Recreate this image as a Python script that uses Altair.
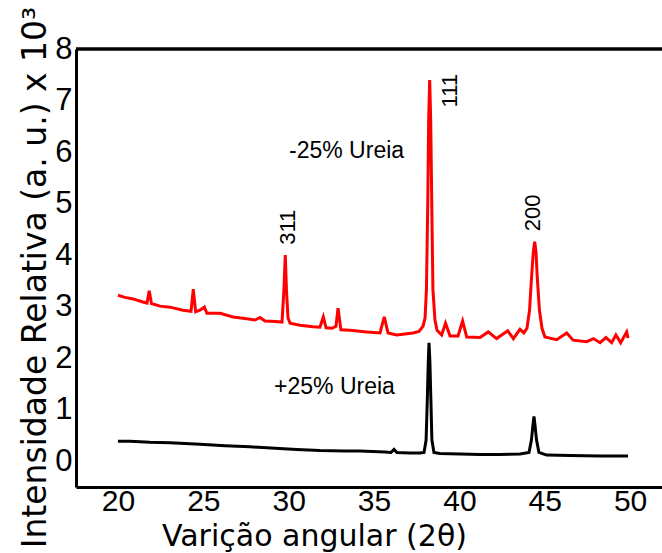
import altair as alt
import pandas as pd

# ---- data ----
# -25% Ureia (red) : 2theta and intensity (x 10^3)
red_2theta = [20.00, 20.41, 20.88, 21.46, 21.70, 21.83, 21.96, 22.46, 23.05, 23.81,
              24.28, 24.41, 24.55, 24.80, 25.06, 25.21, 25.98, 26.74, 27.44, 28.03,
              28.32, 28.61, 29.20, 29.61, 29.72, 29.80, 29.87, 29.96, 30.08, 30.66,
              31.42, 31.83, 32.03, 32.19, 32.54, 32.77, 32.89, 33.06, 33.59, 34.57,
              35.35, 35.60, 35.82, 36.33, 36.81, 37.28, 37.63, 37.87, 37.99, 38.07,
              38.15, 38.20, 38.26, 38.32, 38.38, 38.45, 38.57, 38.69, 38.96, 39.19,
              39.45, 39.92, 40.19, 40.43, 41.21, 41.69, 42.18, 42.83, 43.16, 43.55,
              43.78, 43.96, 44.11, 44.23, 44.33, 44.41, 44.49, 44.56, 44.69, 44.84,
              45.01, 45.70, 46.29, 46.66, 47.46, 47.85, 48.24, 48.59, 48.92, 49.17,
              49.45, 49.80, 49.88]
red_int = [3.22, 3.18, 3.15, 3.09, 3.07, 3.31, 3.06, 3.01, 2.99, 2.93,
           2.91, 3.34, 2.90, 2.93, 2.99, 2.87, 2.87, 2.80, 2.77, 2.74,
           2.79, 2.72, 2.71, 2.70, 3.32, 4.00, 3.32, 2.78, 2.68, 2.64,
           2.61, 2.60, 2.80, 2.59, 2.58, 2.62, 2.97, 2.55, 2.54, 2.51,
           2.49, 2.80, 2.49, 2.45, 2.47, 2.49, 2.52, 2.62, 2.78, 3.33,
           5.07, 6.62, 7.40, 6.62, 5.07, 3.33, 2.74, 2.54, 2.45, 2.68,
           2.43, 2.43, 2.72, 2.41, 2.40, 2.51, 2.38, 2.53, 2.38, 2.56,
           2.49, 2.58, 2.93, 3.58, 4.06, 4.26, 4.06, 3.58, 2.93, 2.58,
           2.41, 2.36, 2.49, 2.35, 2.32, 2.38, 2.30, 2.40, 2.30, 2.45,
           2.30, 2.51, 2.39]

# +25% Ureia (black)
black_2theta = [20.00, 20.70, 21.87, 23.05, 24.80, 26.27, 27.73, 29.20, 30.47, 31.83,
                33.30, 34.18, 35.64, 35.99, 36.17, 36.34, 37.11, 37.69, 37.93, 38.05,
                38.12, 38.18, 38.22, 38.27, 38.33, 38.39, 38.51, 38.86, 40.04, 41.21,
                42.38, 43.55, 44.08, 44.22, 44.31, 44.37, 44.43, 44.52, 44.66, 45.11,
                46.48, 48.24, 49.88]
black_int = [0.39, 0.39, 0.37, 0.36, 0.33, 0.30, 0.28, 0.25, 0.23, 0.21,
             0.20, 0.20, 0.18, 0.17, 0.23, 0.17, 0.16, 0.16, 0.17, 0.41,
             1.19, 1.96, 2.30, 1.96, 1.19, 0.41, 0.17, 0.15, 0.14, 0.13,
             0.13, 0.14, 0.17, 0.41, 0.70, 0.87, 0.70, 0.41, 0.17, 0.12,
             0.11, 0.10, 0.10]

series_names = ["-25% Ureia", "+25% Ureia"]
series_colors = ["#ff0000", "#000000"]

peak_labels = ["311", "111", "200"]
peak_x = [29.94, 39.43, 44.31]
peak_y = [4.54, 7.19, 4.82]

cond_labels = ["-25% Ureia", "+25% Ureia"]
cond_x = [33.39, 32.68]
cond_y = [6.03, 1.44]

y_ticks = [0, 1, 2, 3, 4, 5, 6, 7, 8]
x_ticks = [20, 25, 30, 35, 40, 45, 50]

# ---- tables ----
lines_df = pd.concat([
    pd.DataFrame({"theta": red_2theta, "I": red_int, "serie": series_names[0], "o": range(len(red_2theta))}),
    pd.DataFrame({"theta": black_2theta, "I": black_int, "serie": series_names[1], "o": range(len(black_2theta))}),
])
peaks_df = pd.DataFrame({"theta": peak_x, "I": peak_y, "t": peak_labels})
cond_df = pd.DataFrame({"theta": cond_x, "I": cond_y, "t": cond_labels})

xscale = alt.Scale(domain=[17.54, 51.87], nice=False, zero=False)
yscale = alt.Scale(domain=[-0.5, 8.0], nice=False, zero=False)

FONT = "Liberation Sans, Arial, sans-serif"

lines = alt.Chart(lines_df).mark_line(strokeWidth=3, interpolate="linear").encode(
    x=alt.X("theta:Q", scale=xscale,
            axis=alt.Axis(values=x_ticks, ticks=False, grid=False,
                          domainColor="black", domainWidth=3,
                          labelFont=FONT, labelFontSize=30, labelColor="black",
                          labelPadding=-1, labelFlush=False,
                          title="Varição angular (2θ)", titleFont="DejaVu Sans",
                          titleFontSize=30, titleFontWeight="normal", titleColor="black",
                          titleX=238, titleY=58, titleAlign="center", titleBaseline="alphabetic")),
    y=alt.Y("I:Q", scale=yscale,
            axis=alt.Axis(values=y_ticks, ticks=False, grid=False,
                          domainColor="black", domainWidth=3,
                          labelFont=FONT, labelFontSize=31, labelColor="black",
                          labelPadding=4, labelFlush=False,
                          title="Intensidade Relativa (a. u.) x 10³", titleFont="DejaVu Sans",
                          titleFontSize=33, titleFontWeight="normal", titleColor="black",
                          titleAngle=270, titleX=-31, titleY=228, titleAlign="center",
                          titleBaseline="alphabetic")),
    color=alt.Color("serie:N", scale=alt.Scale(domain=series_names, range=series_colors), legend=None),
    order="o:Q",
)

# top frame line
top_line = alt.Chart(cond_df).mark_rule(color="black", strokeWidth=3).encode(
    x=alt.value(0), x2=alt.value(586), y=alt.value(0)
)

peaks = alt.Chart(peaks_df).mark_text(
    angle=270, align="center", baseline="middle", font=FONT, fontSize=22, color="black"
).encode(
    x=alt.X("theta:Q", scale=xscale),
    y=alt.Y("I:Q", scale=yscale),
    text="t:N",
)

conds = alt.Chart(cond_df).mark_text(
    align="center", baseline="middle", font=FONT, fontSize=23, color="black"
).encode(
    x=alt.X("theta:Q", scale=xscale),
    y=alt.Y("I:Q", scale=yscale),
    text="t:N",
)

chart = alt.layer(lines, top_line, peaks, conds).properties(
    width=586, height=438,
    autosize=alt.AutoSizeParams(type="none"),
    padding={"left": 76, "top": 49, "right": 0, "bottom": 66},
    background="white",
).configure_view(stroke=None)

chart.save("out.html", embed_options={"renderer": "svg", "actions": False})
